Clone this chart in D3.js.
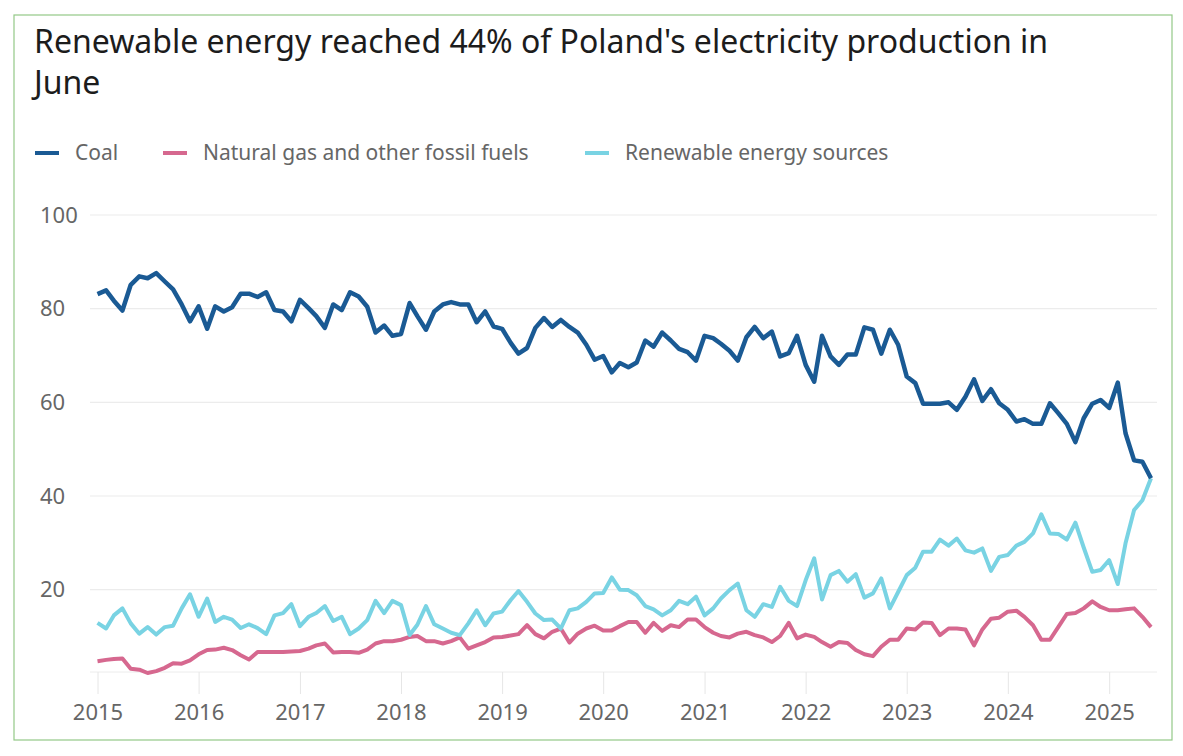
<!DOCTYPE html>
<html>
<head>
<meta charset="utf-8">
<script src="https://cdn.jsdelivr.net/npm/d3@7"></script>
<style>
body { margin: 0; background: #fff; }
svg { display: block; font-family: "Noto Sans", sans-serif; }
</style>
</head>
<body>
<svg width="1183" height="756"></svg>
<script>
// monthly share of electricity production (%), Jan 2015 - Jun 2025
var coal = [
	83.1, 83.9, 81.7, 79.6, 85.1, 86.9, 86.5, 87.6, 85.8, 84.1, 80.9, 77.3,
	80.5, 75.7, 80.5, 79.4, 80.3, 83.2, 83.2, 82.5, 83.5, 79.7, 79.4, 77.3,
	81.9, 80.1, 78.4, 75.9, 80.9, 79.7, 83.5, 82.6, 80.4, 74.9, 76.4, 74.2,
	74.6, 81.2, 78.4, 75.5, 79.4, 80.9, 81.4, 80.9, 80.9, 77.1, 79.4, 76.2,
	75.7, 72.7, 70.4, 71.6, 75.9, 78.0, 76.1, 77.6, 76.1, 74.9, 72.3, 69.1,
	69.9, 66.4, 68.4, 67.5, 68.5, 73.2, 71.9, 74.9, 73.2, 71.4, 70.7, 68.9,
	74.2, 73.7, 72.5, 71.0, 68.9, 73.9, 76.1, 73.7, 75.1, 69.8, 70.5, 74.2,
	68.0, 64.4, 74.2, 69.8, 68.0, 70.2, 70.2, 76.0, 75.5, 70.4, 75.5, 72.3,
	65.5, 64.1, 59.7, 59.7, 59.7, 60.0, 58.4, 61.2, 64.9, 60.3, 62.8, 59.8,
	58.4, 55.9, 56.4, 55.4, 55.4, 59.8, 57.7, 55.4, 51.5, 56.6, 59.7, 60.5,
	58.8, 64.2, 53.4, 47.6, 47.3, 43.8
];
var gas = [
	4.7, 5.0, 5.2, 5.3, 3.1, 2.9, 2.2, 2.6, 3.3, 4.3, 4.2, 4.9,
	6.2, 7.1, 7.2, 7.6, 7.1, 6.0, 5.1, 6.7, 6.7, 6.7, 6.7, 6.8,
	6.9, 7.4, 8.1, 8.5, 6.6, 6.7, 6.7, 6.5, 7.2, 8.5, 9.0, 9.0,
	9.3, 9.9, 10.1, 9.0, 9.0, 8.5, 9.0, 9.8, 7.4, 8.1, 8.8, 9.8,
	9.9, 10.2, 10.5, 12.4, 10.5, 9.6, 11.0, 11.7, 8.7, 10.6, 11.7, 12.3,
	11.3, 11.3, 12.2, 13.1, 13.1, 10.8, 12.9, 11.2, 12.4, 12.0, 13.6, 13.6,
	12.0, 10.8, 10.1, 9.8, 10.6, 11.0, 10.3, 9.8, 8.8, 10.1, 12.9, 9.6,
	10.4, 9.9, 8.8, 7.8, 8.8, 8.6, 7.1, 6.2, 5.8, 7.8, 9.3, 9.3,
	11.7, 11.5, 13.0, 12.9, 10.3, 11.7, 11.7, 11.5, 8.1, 11.5, 13.8, 14.0,
	15.3, 15.5, 14.2, 12.4, 9.3, 9.3, 12.0, 14.8, 15.0, 16.0, 17.5, 16.3,
	15.6, 15.6, 15.8, 16.0, 14.2, 12.0
];
var renewables = [
	12.9, 11.7, 14.5, 16.0, 12.8, 10.6, 12.0, 10.4, 12.0, 12.3, 16.0, 19.0,
	14.2, 18.1, 13.1, 14.2, 13.6, 11.8, 12.6, 11.8, 10.5, 14.5, 15.0, 16.9,
	12.2, 14.2, 15.0, 16.5, 13.3, 14.2, 10.5, 11.7, 13.5, 17.6, 15.0, 17.6,
	16.7, 10.3, 12.5, 16.5, 12.6, 11.7, 10.8, 10.3, 12.8, 15.6, 12.4, 14.9,
	15.3, 17.8, 19.7, 17.4, 14.9, 13.5, 13.6, 11.7, 15.6, 16.0, 17.4, 19.2,
	19.3, 22.6, 20.0, 19.9, 18.8, 16.5, 15.8, 14.5, 15.6, 17.6, 16.9, 18.5,
	14.5, 16.0, 18.1, 19.9, 21.3, 15.6, 14.2, 16.9, 16.3, 20.6, 17.6, 16.5,
	22.0, 26.7, 17.9, 23.1, 24.0, 21.7, 23.3, 18.3, 19.2, 22.4, 16.0, 19.5,
	23.1, 24.7, 28.1, 28.1, 30.7, 29.4, 30.9, 28.4, 27.9, 28.8, 24.0, 27.0,
	27.4, 29.4, 30.2, 32.0, 36.1, 32.0, 31.9, 30.7, 34.3, 29.0, 23.8, 24.2,
	26.3, 21.2, 29.9, 37.0, 39.1, 43.8
];
var seriesNames = ["Coal", "Natural gas and other fossil fuels", "Renewable energy sources"];
var seriesColors = ["#1a5a94", "#d6688f", "#79d3e3"];
var yTicks = [20, 40, 60, 80, 100];
var xTickYears = [2015, 2016, 2017, 2018, 2019, 2020, 2021, 2022, 2023, 2024, 2025];

var months = coal.map(function(d, i) { return new Date(2015, i, 1); });
var series = [coal, gas, renewables];

var svg = d3.select("svg");

// frame
svg.append("rect")
	.attr("x", 14).attr("y", 15)
	.attr("width", 1158).attr("height", 725)
	.attr("fill", "none")
	.attr("stroke", "#93c987")
	.attr("stroke-width", 1.2);

// title
var title = svg.append("text")
	.attr("fill", "#1c1c1c")
	.style("font-size", "32px");
title.append("tspan").attr("x", 34).attr("y", 53)
	.text("Renewable energy reached 44% of Poland's electricity production in");
title.append("tspan").attr("x", 34).attr("y", 94).text("June");

// legend
var legendX = [35, 163, 585];
var legend = svg.selectAll(".legend")
	.data(seriesNames)
	.enter().append("g")
	.attr("class", "legend")
	.attr("transform", (d, i) => "translate(" + legendX[i] + ",153)");
legend.append("line")
	.attr("x1", 0).attr("x2", 24)
	.attr("stroke", (d, i) => seriesColors[i])
	.attr("stroke-width", 4);
legend.append("text")
	.attr("x", 40).attr("dy", "0.35em")
	.attr("fill", "#666")
	.style("font-size", "21px")
	.text(d => d);

var xScale = d3.scaleTime()
	.domain([months[0], months[months.length - 1]])
	.range([97.5, 1151]);
var yScale = d3.scaleLinear()
	.domain([d3.min(series, s => d3.min(s)), 100])
	.range([673, 215]);

// grid lines
svg.append("g")
	.selectAll("line")
	.data(yTicks)
	.enter().append("line")
	.attr("x1", 90).attr("x2", 1157)
	.attr("y1", d => yScale(d)).attr("y2", d => yScale(d))
	.attr("stroke", "#ececec")
	.attr("stroke-width", 1.2);

// y labels
svg.append("g")
	.selectAll("text")
	.data(yTicks)
	.enter().append("text")
	.attr("x", 40)
	.attr("y", d => yScale(d))
	.attr("dy", "0.35em")
	.attr("fill", "#666")
	.style("font-size", "22px")
	.text(d => d);

// x axis
var xAxis = svg.append("g")
	.attr("transform", "translate(0,672)")
	.call(d3.axisBottom(xScale)
		.tickValues(xTickYears.map(y => new Date(y, 0, 1)))
		.tickFormat(d3.timeFormat("%Y"))
		.tickSize(22)
		.tickPadding(10));
xAxis.select(".domain")
	.attr("d", "M90,0H1157")
	.attr("stroke", "#ececec");
xAxis.selectAll(".tick line").attr("stroke", "#e6e6e6");
xAxis.selectAll(".tick text")
	.attr("fill", "#666")
	.style("font-family", "'Noto Sans', sans-serif")
	.style("font-size", "22px");

// lines
var line = d3.line()
	.x((d, i) => xScale(months[i]))
	.y(d => yScale(d));

svg.append("g")
	.selectAll("path")
	.data([gas, renewables, coal])
	.enter().append("path")
	.attr("d", line)
	.attr("fill", "none")
	.attr("stroke", d => seriesColors[series.indexOf(d)])
	.attr("stroke-width", (d) => d === coal ? 4.5 : 4)
	.attr("stroke-linejoin", "round");
</script>
</body>
</html>
